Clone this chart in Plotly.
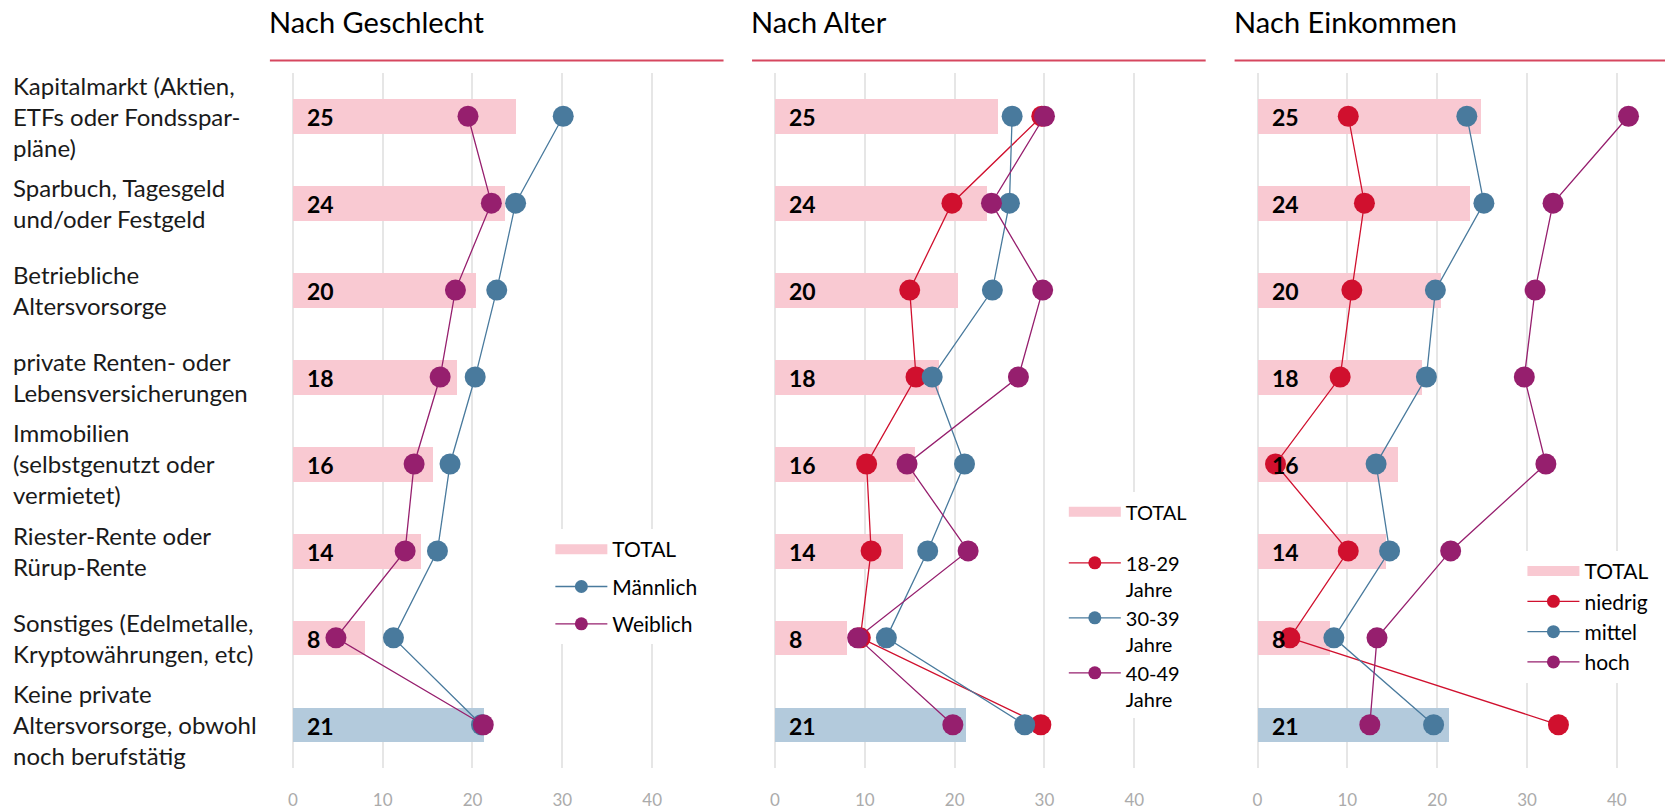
import plotly.graph_objects as go

# ---------------- data ----------------
categories = [
    "Kapitalmarkt (Aktien,<br>ETFs oder Fondsspar-<br>pläne)",
    "Sparbuch, Tagesgeld<br>und/oder Festgeld",
    "Betriebliche<br>Altersvorsorge",
    "private Renten- oder<br>Lebensversicherungen",
    "Immobilien<br>(selbstgenutzt oder<br>vermietet)",
    "Riester-Rente oder<br>Rürup-Rente",
    "Sonstiges (Edelmetalle,<br>Kryptowährungen, etc)",
    "Keine private<br>Altersvorsorge, obwohl<br>noch berufstätig",
]
total = [24.8, 23.6, 20.4, 18.3, 15.6, 14.3, 8.0, 21.3]
total_labels = ["25", "24", "20", "18", "16", "14", "8", "21"]

panel_titles = ["Nach Geschlecht", "Nach Alter", "Nach Einkommen"]

# Nach Geschlecht
maennlich = [30.1, 24.8, 22.7, 20.3, 17.5, 16.1, 11.2, 21.0]
weiblich = [19.5, 22.1, 18.1, 16.4, 13.5, 12.5, 4.8, 21.2]
# Nach Alter
alter_18_29 = [29.7, 19.7, 15.0, 15.7, 10.2, 10.7, 9.5, 29.6]
alter_30_39 = [26.4, 26.1, 24.2, 17.5, 21.1, 17.0, 12.4, 27.8]
alter_40_49 = [30.0, 24.1, 29.8, 27.1, 14.7, 21.5, 9.2, 19.8]
# Nach Einkommen
niedrig = [10.1, 11.9, 10.5, 9.2, 2.0, 10.1, 3.6, 33.5]
mittel = [23.3, 25.2, 19.8, 18.8, 13.2, 14.7, 8.5, 19.6]
hoch = [41.3, 32.9, 30.9, 29.7, 32.1, 21.5, 13.3, 12.5]

x_ticks = [0, 10, 20, 30, 40]

# ---------------- style ----------------
W, H = 1665, 810
RED = "#D0102E"
BLUE = "#497A9D"
PURPLE = "#961F6E"
PINK = "#F9C9D2"
GREYBLUE = "#B3CADC"
TITLE_LINE = "#D6475F"
FONT = "Lato"

bar_colors = [PINK] * 7 + [GREYBLUE]

panels = [
    dict(series=[("Männlich", maennlich, BLUE), ("Weiblich", weiblich, PURPLE)],
         x0=288.7, xmax=48.0, legend="legend"),
    dict(series=[("18-29<br>Jahre", alter_18_29, RED), ("30-39<br>Jahre", alter_30_39, BLUE),
                 ("40-49<br>Jahre", alter_40_49, PURPLE)],
         x0=772.3, xmax=48.0, legend="legend2"),
    dict(series=[("niedrig", niedrig, RED), ("mittel", mittel, BLUE), ("hoch", hoch, PURPLE)],
         x0=1256.3, xmax=45.3, legend="legend3"),
]
PXU = 9.01  # pixels per unit
Y_TOP, Y_BOT = 73.3, 774.0

fig = go.Figure()
annotations = []
shapes = []
layout_axes = {}

for i, p in enumerate(panels):
    n = "" if i == 0 else str(i + 1)
    xa, ya = "x" + n, "y" + n
    # bars
    fig.add_trace(go.Bar(
        x=total, y=categories, orientation="h", width=0.4,
        marker=dict(color=bar_colors, line=dict(width=0)),
        xaxis=xa, yaxis=ya, showlegend=False, hoverinfo="x+y",
    ))
    # legend entry for TOTAL
    fig.add_trace(go.Scatter(
        x=[None], y=[None], mode="lines", name="TOTAL",
        line=dict(color=PINK, width=14), xaxis=xa, yaxis=ya,
        legend=p["legend"], legendgroup=f"tot{i}", showlegend=True,
    ))
    for j, (name, vals, col) in enumerate(p["series"]):
        grp = f"s{i}_{j}" if i == 0 else f"g{i}"
        fig.add_trace(go.Scatter(
            x=vals, y=categories, mode="lines+markers", name=name,
            line=dict(color=col, width=1.3),
            marker=dict(color=col, size=21, line=dict(width=0)),
            xaxis=xa, yaxis=ya, legend=p["legend"], legendgroup=grp,
            showlegend=False,
        ))
        # legend entry (smaller symbol, as in the reference legend)
        fig.add_trace(go.Scatter(
            x=[None], y=[None], mode="lines+markers", name=name,
            line=dict(color=col, width=1.3),
            marker=dict(color=col, size=13, line=dict(width=0)),
            xaxis=xa, yaxis=ya, legend=p["legend"], legendgroup=grp,
            showlegend=True,
        ))
    x0 = p["x0"]
    x1 = x0 + p["xmax"] * PXU
    layout_axes["xaxis" + n] = dict(
        domain=[x0 / W, min(x1, W) / W], range=[0, p["xmax"]], anchor=ya,
        tickvals=x_ticks, showgrid=True, gridcolor="#E6E6E6", gridwidth=1.5,
        zeroline=True, zerolinecolor="#E6E6E6", zerolinewidth=1.5,
        showline=False, ticks="", ticklabelstandoff=20,
        tickfont=dict(family=FONT, size=17, color="#ABABAB"), fixedrange=True,
    )
    layout_axes["yaxis" + n] = dict(
        domain=[1 - Y_BOT / H, 1 - Y_TOP / H], anchor=xa,
        type="category", categoryorder="array", categoryarray=categories,
        range=[7.5, -0.5], autorange=False, showticklabels=False,
        showgrid=False, zeroline=False, showline=False, fixedrange=True,
    )
    # value labels
    for c, lab in zip(categories, total_labels):
        annotations.append(dict(
            x=0, y=c, xref=xa, yref=ya, text=lab, showarrow=False,
            xanchor="left", yanchor="middle", xshift=12, yshift=-1,
            font=dict(family=FONT, size=23, color="#000000", weight="bold"),
        ))
    # panel title and line
    tx = x0 - 26
    annotations.append(dict(
        x=tx / W, y=1 - 22 / H, xref="paper", yref="paper", text=panel_titles[i],
        showarrow=False, xanchor="left", yanchor="middle",
        font=dict(family=FONT, size=29, color="#000000"),
    ))
    shapes.append(dict(
        type="line", xref="paper", yref="paper",
        x0=(x0 - 23) / W, x1=min(x0 - 23 + 455, W) / W,
        y0=1 - 61 / H, y1=1 - 61 / H, line=dict(color=TITLE_LINE, width=2),
    ))

# category labels (left)
for c in categories:
    annotations.append(dict(
        x=6 / W, y=c, xref="paper", yref="y", text=c, showarrow=False,
        xanchor="left", yanchor="middle", align="left",
        font=dict(family=FONT, size=24, color="#1A1A1A"),
    ))

legend_common = dict(bgcolor="#FFFFFF", borderwidth=0, itemwidth=52,
                     xanchor="left", yanchor="top",
                     orientation="v", itemclick=False, itemdoubleclick=False)

fig.update_layout(
    width=W, height=H,
    margin=dict(l=0, r=0, t=0, b=0),
    paper_bgcolor="#FFFFFF", plot_bgcolor="#FFFFFF",
    font=dict(family=FONT, color="#000000"),
    annotations=annotations, shapes=shapes,
    legend=dict(x=547 / W, y=1 - 533 / H, font=dict(family=FONT, size=21, color="#000000"),
                traceorder="grouped", tracegroupgap=7, **legend_common),
    legend2=dict(x=1062 / W, y=1 - 496 / H, font=dict(family=FONT, size=20, color="#000000"),
                 traceorder="grouped", tracegroupgap=22, valign="top", **legend_common),
    legend3=dict(x=1522 / W, y=1 - 555 / H, font=dict(family=FONT, size=21, color="#000000"),
                 traceorder="grouped", tracegroupgap=0, **legend_common),
    bargap=0, showlegend=True,
    **layout_axes,
)

fig.write_html("out.html", config={"displayModeBar": False},
               post_script="document.body.style.margin='0';")
